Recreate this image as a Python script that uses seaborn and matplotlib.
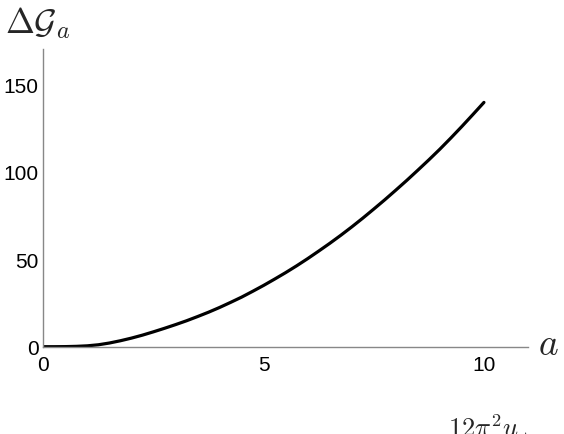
import matplotlib
matplotlib.use("Agg")
import matplotlib.pyplot as plt
import seaborn as sns

# values
a_vals = [0, 0.25, 0.5, 0.75, 1, 1.25, 1.5, 1.75, 2, 2.25, 2.5, 2.75, 3, 3.25, 3.5, 3.75,
          4, 4.25, 4.5, 4.75, 5, 5.25, 5.5, 5.75, 6, 6.25, 6.5, 6.75, 7, 7.25, 7.5, 7.75,
          8, 8.25, 8.5, 8.75, 9, 9.25, 9.5, 9.75, 10]
g_vals = [0, 0.0, 0.05, 0.2, 0.5, 1.1, 2.1, 3.4, 4.9, 6.6, 8.5, 10.5, 12.6, 14.8, 17.2, 19.7,
          22.4, 25.3, 28.3, 31.6, 35.0, 38.6, 42.3, 46.2, 50.3, 54.6, 59.0, 63.6, 68.4, 73.4,
          78.6, 83.9, 89.4, 95.0, 100.8, 106.7, 112.8, 119.2, 125.8, 132.6, 139.5]
x_ticks = [0, 5, 10]
y_ticks = [0, 50, 100, 150]

sns.set_theme(style="white")
plt.rcParams['font.family'] = ['Liberation Sans', 'DejaVu Sans']
plt.rcParams['mathtext.fontset'] = 'cm'

W, H = 564, 435
fig = plt.figure(figsize=(W / 100, H / 100), dpi=100)
ax = fig.add_axes([43.3 / W, (H - 347.7) / H, (528 - 43.3) / W, (347.7 - 50) / H])

sns.lineplot(x=a_vals, y=g_vals, color='black', linewidth=2.3, ax=ax)

ax.set_xlim(0, 11)
ax.set_ylim(0, 170)
ax.set_xticks(x_ticks)
ax.set_yticks(y_ticks)
ax.set_xlabel('')
ax.set_ylabel('')
for side in ['top', 'right']:
    ax.spines[side].set_visible(False)
for side in ['left', 'bottom']:
    ax.spines[side].set_color('#888888')
    ax.spines[side].set_linewidth(1.0)
ax.tick_params(axis='both', direction='in', length=4, width=0.8, color='#888888',
               labelsize=15, labelcolor='black')
ax.tick_params(axis='x', pad=6)
ax.tick_params(axis='y', pad=3.5)
ax.set_facecolor('white')

fig.text(5 / W, 1 - 33 / H, r'$\Delta\mathcal{G}_a$', fontsize=25, va='baseline', ha='left')
fig.text(538 / W, 1 - 355 / H, r'$a$', fontsize=27, va='baseline', ha='left')
fig.text(448 / W, 1 - 438 / H, r'$12\pi^2u_*$', fontsize=19, va='baseline', ha='left')

fig.savefig('out.png', dpi=100, facecolor='white')
